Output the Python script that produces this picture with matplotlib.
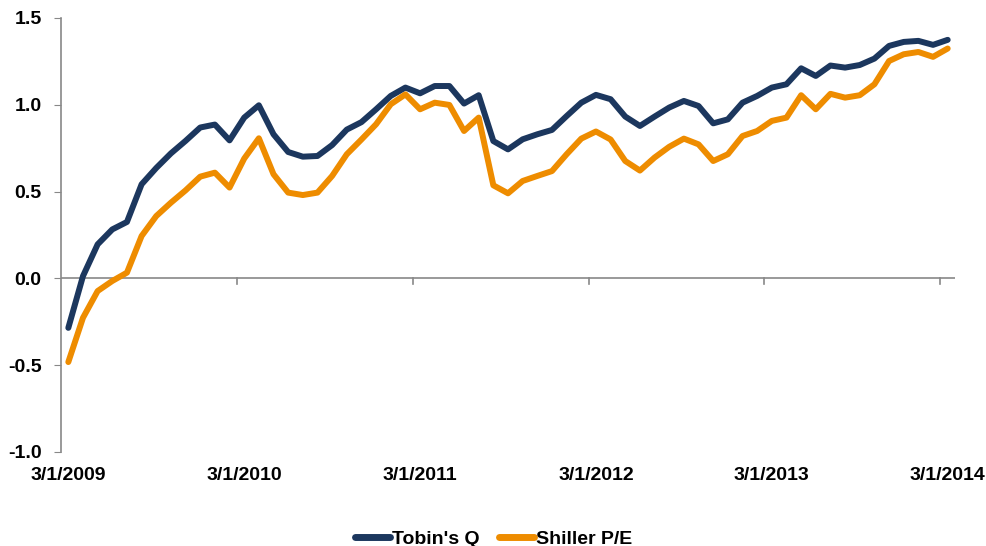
import numpy as np
import matplotlib.pyplot as plt

plt.rcParams['font.family'] = ['Liberation Sans', 'DejaVu Sans']

# monthly, 3/1/2009 .. 3/1/2014
tobins_q = [-0.285, 0.013, 0.196, 0.282, 0.325, 0.542, 0.636, 0.72, 0.792, 0.869,
            0.886, 0.795, 0.926, 0.997, 0.83, 0.728, 0.701, 0.705, 0.768, 0.857,
            0.90, 0.974, 1.051, 1.099, 1.066, 1.108, 1.108, 1.007, 1.055, 0.791,
            0.743, 0.801, 0.83, 0.855, 0.935, 1.012, 1.057, 1.032, 0.932, 0.878,
            0.932, 0.984, 1.022, 0.993, 0.893, 0.916, 1.012, 1.051, 1.099, 1.118,
            1.21, 1.166, 1.226, 1.214, 1.229, 1.266, 1.339, 1.362, 1.368, 1.345,
            1.374]
shiller_pe = [-0.482, -0.227, -0.073, -0.015, 0.033, 0.244, 0.359, 0.436, 0.507, 0.586,
              0.609, 0.523, 0.69, 0.807, 0.6, 0.494, 0.48, 0.494, 0.59, 0.715,
              0.80, 0.888, 1.003, 1.06, 0.974, 1.012, 0.999, 0.849, 0.926, 0.536,
              0.49, 0.561, 0.59, 0.618, 0.715, 0.805, 0.846, 0.80, 0.676, 0.621,
              0.696, 0.758, 0.805, 0.772, 0.676, 0.715, 0.82, 0.849, 0.907, 0.926,
              1.055, 0.974, 1.063, 1.041, 1.055, 1.118, 1.252, 1.291, 1.304, 1.276,
              1.324]
tick_labels = ['3/1/2009', '3/1/2010', '3/1/2011', '3/1/2012', '3/1/2013', '3/1/2014']

x = np.arange(len(tobins_q))

fig = plt.figure(figsize=(9.87, 5.46), dpi=100)
ax = fig.add_axes([0.0618, 0.1722, 0.9058, 0.7949])

ax.plot(x, tobins_q, color='#1C375E', lw=4.3, label="Tobin's Q", solid_capstyle='round')
ax.plot(x, shiller_pe, color='#EE8C00', lw=4.3, label='Shiller P/E', solid_capstyle='round')

ax.set_xlim(-0.5, len(x) - 0.5)
ax.set_ylim(-1.0, 1.5)
ax.set_yticks([-1.0, -0.5, 0.0, 0.5, 1.0, 1.5])
ax.set_yticklabels([f'{v:.1f}' for v in [-1.0, -0.5, 0.0, 0.5, 1.0, 1.5]],
                   fontsize=14, fontweight='bold')

# category labels at bottom, tick marks on the zero line between categories
ax.set_xticks(x[::12])
ax.set_xticklabels(tick_labels, fontsize=14, fontweight='bold')
ax.tick_params(axis='x', length=0, pad=11)
ax.tick_params(axis='y', length=5, color='#888888', pad=9)

ax.axhline(0, color='#888888', lw=1.2, zorder=1)
for k in range(12, len(x), 12):
    ax.plot([k - 0.5, k - 0.5], [0, -0.03], color='#888888', lw=1.2, clip_on=False, zorder=1)

for s in ['top', 'right', 'bottom']:
    ax.spines[s].set_visible(False)
ax.spines['left'].set_color('#888888')
ax.spines['left'].set_linewidth(1.2)

leg = fig.legend(loc='lower center', bbox_to_anchor=(0.5, -0.035), ncol=2, frameon=False,
                 prop={'size': 14, 'weight': 'bold'}, handlelength=1.8,
                 handletextpad=0.1, columnspacing=1.0)
for line in leg.get_lines():
    line.set_linewidth(5)

fig.savefig('out.png', dpi=100)
